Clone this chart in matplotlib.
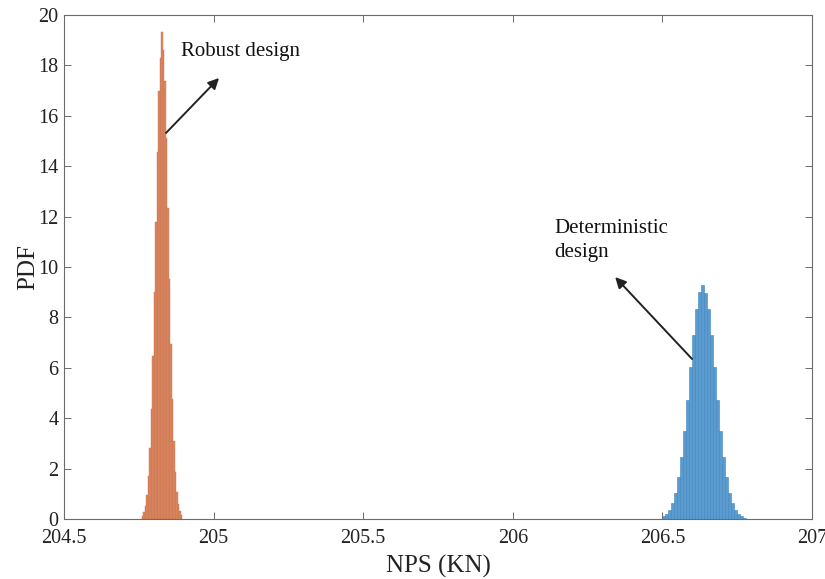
import numpy as np
import matplotlib
matplotlib.use("Agg")
import matplotlib.pyplot as plt

# Probability density of NPS for the robust design (bin width 0.005 kN)
robust_left = 204.760
robust_width = 0.005
robust_pdf = [0.12, 0.26, 0.51, 0.96, 1.69, 2.80, 4.38, 6.47, 8.99, 11.80,
              14.58, 16.99, 18.30, 19.34, 18.60, 17.40, 15.10, 12.36, 9.54,
              6.94, 4.76, 3.08, 1.88, 1.08, 0.58, 0.30, 0.14]

# Probability density of NPS for the deterministic design (bin width 0.01 kN)
determ_left = 206.500
determ_width = 0.01
determ_pdf = [0.10, 0.19, 0.35, 0.62, 1.04, 1.65, 2.46, 3.51, 4.73, 6.03,
              7.29, 8.34, 9.02, 9.29, 8.98, 8.34, 7.29, 6.03, 4.73, 3.51,
              2.46, 1.65, 1.04, 0.62, 0.35, 0.19, 0.10, 0.05]

x_ticks = [204.5, 205, 205.5, 206, 206.5, 207]
x_tick_labels = ["204.5", "205", "205.5", "206", "206.5", "207"]
y_ticks = [0, 2, 4, 6, 8, 10, 12, 14, 16, 18, 20]

plt.rcParams["font.family"] = ["Liberation Serif", "DejaVu Serif"]

fig = plt.figure(figsize=(8.25, 5.79), dpi=100)
ax = fig.add_axes([0.0776, 0.1036, 0.9067, 0.8705])

r_edges = robust_left + robust_width * np.arange(len(robust_pdf))
d_edges = determ_left + determ_width * np.arange(len(determ_pdf))

ax.bar(r_edges, robust_pdf, width=robust_width, align="edge",
       color="#DB8762", edgecolor="#CC7550", linewidth=0.3)
ax.bar(d_edges, determ_pdf, width=determ_width, align="edge",
       color="#5A9CD0", edgecolor="#3F84BC", linewidth=0.4)

ax.set_xlim(204.5, 207)
ax.set_ylim(0, 20)
ax.set_xticks(x_ticks)
ax.set_xticklabels(x_tick_labels)
ax.set_yticks(y_ticks)

for s in ax.spines.values():
    s.set_color("#6b6b6b")
    s.set_linewidth(0.8)
ax.tick_params(direction="in", length=5, width=0.7, color="#6b6b6b",
               labelsize=14.5, labelcolor="#222222", top=True, right=True)
ax.tick_params(axis="x", pad=7)
ax.tick_params(axis="y", pad=4)

ax.set_xlabel("NPS (KN)", fontsize=18, color="#222222", labelpad=5)
ax.set_ylabel("PDF", fontsize=18, color="#222222", labelpad=-1)

arrow = dict(arrowstyle="-|>", lw=1.4, color="#222222", mutation_scale=16,
             shrinkA=0, shrinkB=0)
ax.annotate("", xy=(205.018, 17.5), xytext=(204.841, 15.32), arrowprops=arrow)
ax.text(204.891, 18.55, "Robust design", fontsize=15, color="#111111",
        ha="left", va="center")

ax.annotate("", xy=(206.342, 9.60), xytext=(206.599, 6.35), arrowprops=arrow)
ax.text(206.138, 11.05, "Deterministic\ndesign", fontsize=15, color="#111111",
        ha="left", va="center", linespacing=1.3)

fig.savefig("out.png", dpi=100)
